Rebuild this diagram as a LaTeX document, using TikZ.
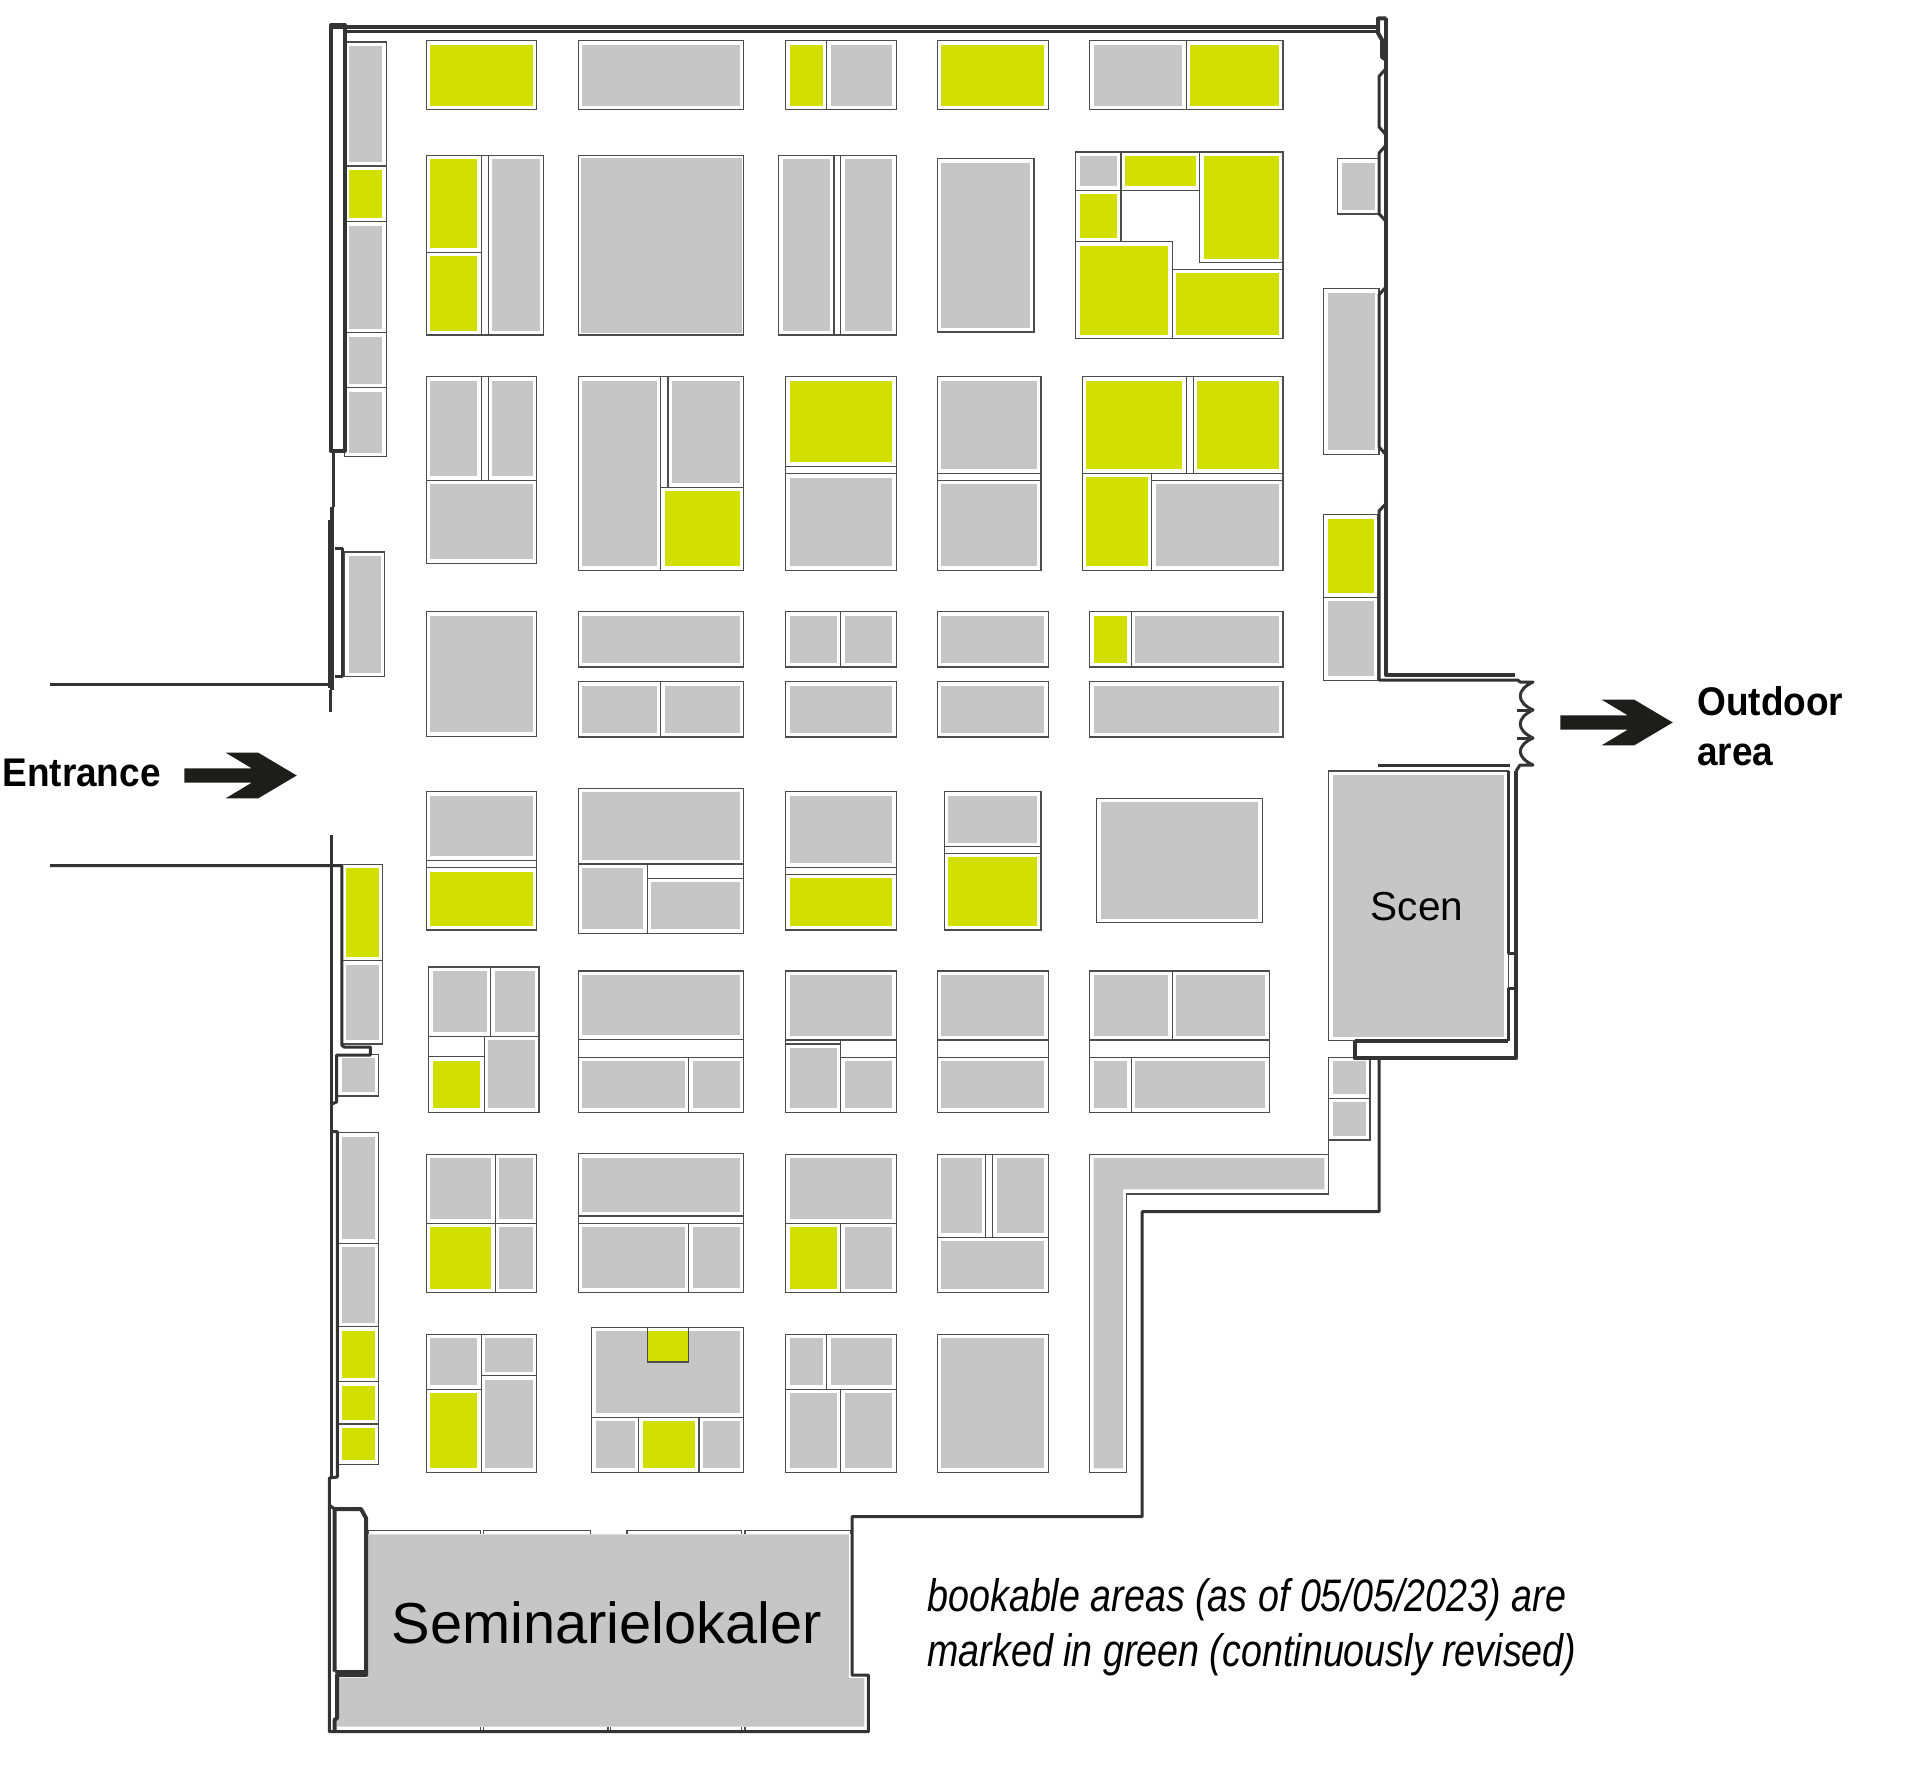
\documentclass[tikz,border=0pt]{standalone}
\usepackage{fontspec}
\setmainfont{Liberation Sans}
\newfontfamily\narrowfont[FakeStretch=0.925]{Liberation Sans}
\newfontfamily\notefont[FakeStretch=0.826]{Liberation Sans}
\definecolor{boothgray}{HTML}{C6C6C6}
\definecolor{boothgreen}{HTML}{D2E000}
\definecolor{walldark}{HTML}{333333}
\definecolor{arrowdark}{HTML}{1D1D1B}
\tikzset{
  booth/.style={draw=black!70, line width=0.55pt, fill=white},
  wall/.style={draw=walldark, line width=1.5pt, line join=round},
  wallthick/.style={draw=walldark, line width=2pt, line join=round},
  wallthin/.style={draw=black!70, line width=0.55pt},
}
\begin{document}
\begin{tikzpicture}[x=0.5pt,y=-0.5pt]
    \useasboundingbox (0,0) rectangle (1920,1766);

    % Seminar rooms
    \fill[boothgray] (367,1534.3) -- (848.8,1534.3) -- (848.8,1678) -- (864.3,1678) -- (864.3,1726.7) -- (336.5,1726.7) -- (336.5,1678) -- (367,1678) -- cycle;
    \foreach \xa/\xb in {368/480.2, 483.5/590.8, 627/741.8, 745/850.8} {
        \draw[wallthin] (\xa,1534) -- (\xa,1530.7) -- (\xb,1530.7) -- (\xb,1534);
    }
    \foreach \x in {480.2, 483.5, 608, 610.5, 741.8, 745} {
        \draw[wallthin] (\x,1727) -- (\x,1731);
    }

    % Empty cells
    \foreach \xa/\ya/\xb/\yb in {
        481.4/155.3/488.4/335, 834/155.3/840.6/335,
        481.4/376.7/488.4/480.3, 660.6/376.7/668/487.3, 785.5/466.3/896.1/473.7, 937.3/473.3/1041/480.3,
        1186.3/376.7/1193.3/473.3, 1151.6/473.3/1283/480.3,
        426.3/860.3/536.5/867.7, 647.1/864/743.9/878.3, 785.5/867.3/896.1/874.3, 944.3/846.7/1041/853.3,
        428.8/1036.3/484.3/1056.7, 578.2/1039.3/743.9/1057.3, 785.5/1040/840.6/1044, 840.6/1040/896.1/1057.3,
        937.3/1040/1048.4/1057.3, 1089.6/1040/1269.2/1057.3,
        578.2/1216/743.9/1223.3, 985.9/1154.3/992.9/1237.3
    } {
        \draw[booth] (\xa,\ya) rectangle (\xb,\yb);
    }

    % Grey stands
    \foreach \xa/\ya/\xb/\yb in {
        344.7/42/386.3/166, 344.7/221.5/386.3/332.5, 344.7/332.5/386.3/387.7, 344.7/387.7/386.3/456.7, 344.7/552/384.7/676.7,
        341.8/960.7/382.7/1044, 337.8/1054.3/378.6/1096, 337.8/1132.7/378.6/1243.3, 337.8/1243.3/378.6/1326.7,
        578.2/40.7/743.9/109.7, 826.7/40.7/896.1/109.7, 1089.6/40.7/1186.3/109.7,
        488.4/155.3/543.5/335, 778.6/155.3/834/335, 840.6/155.3/896.1/335, 937.3/158.7/1034/332, 1075.7/152/1121/190.3,
        1337.8/158.7/1379/214, 1323.9/288.7/1379/454.3,
        426.3/376.7/481.4/480.3, 488.4/376.7/536.5/480.3, 426.3/480.3/536.5/563.3,
        578.2/376.7/660.6/570.3, 668/376.7/743.9/487.3, 785.5/473.7/896.1/570.3,
        937.3/376.7/1041/473.3, 937.3/480.3/1041/570.3, 1151.6/480.3/1283/570.3, 1323.9/597.3/1378/680.3,
        426.3/611.7/536.5/736.3, 578.2/611.7/743.9/667, 578.2/681.7/660.6/737, 660.6/681.7/743.9/737,
        785.5/611.7/840.6/667, 840.6/611.7/896.1/667, 785.5/681.7/896.1/737,
        937.3/611.7/1048.4/667, 937.3/681.7/1048.4/737, 1131.2/611.7/1283/667, 1089.6/681.7/1283/737,
        426.3/791.7/536.5/860.3, 578.2/788.3/743.9/864, 578.2/864/647.1/933.3, 647.1/878.3/743.9/933.3,
        785.5/791.7/896.1/867.3, 944.3/791.7/1041/846.7, 1096.5/798.3/1262.2/922.7, 1328.8/771/1508.4/1040.7,
        428.8/967/490.8/1036.3, 490.8/967/539/1036.3, 484.3/1036.3/539/1112.3,
        578.2/971/743.9/1039.3, 578.2/1057.3/688.8/1112.3, 688.8/1057.3/743.9/1112.3,
        785.5/971/896.1/1040, 785.5/1044/840.6/1112.3, 840.6/1057.3/896.1/1112.3,
        937.3/971/1048.4/1040, 937.3/1057.3/1048.4/1112.3,
        1089.6/971/1172.4/1040, 1172.4/971/1269.2/1040, 1089.6/1057.3/1131.2/1112.3, 1131.2/1057.3/1269.2/1112.3,
        1328.8/1057.3/1370/1098.3, 1328.8/1098.3/1370/1140,
        426.3/1154.3/495.3/1223.3, 495.3/1154.3/536.5/1223.3, 495.3/1223.3/536.5/1292.7,
        578.2/1153.7/743.9/1216, 578.2/1223.3/688.8/1292.3, 688.8/1223.3/743.9/1292.3,
        785.5/1154.3/896.1/1223.3, 840.6/1223.3/896.1/1292.7,
        937.3/1154.3/985.9/1237.3, 992.9/1154.3/1048.4/1237.3, 937.3/1237.3/1048.4/1292.7,
        426.3/1334.3/481.4/1389.3, 481.4/1334.3/536.5/1375.7, 481.4/1375.7/536.5/1472.3,
        591.6/1327.3/743.9/1417.3, 591.6/1417.3/638.6/1472.3, 699/1417.3/743.9/1472.3,
        785.5/1334.3/826.7/1389.3, 826.7/1334.3/896.1/1389.3, 785.5/1389.3/840.6/1472.3, 840.6/1389.3/896.1/1472.3,
        937.3/1334.3/1048.4/1472.3
    } {
        \draw[booth] (\xa,\ya) rectangle (\xb,\yb);
        \fill[boothgray] (\xa+4,\ya+4) rectangle (\xb-4,\yb-4);
    }
    \draw[booth] (578.2,155.3) rectangle (743.9,335);
    \fill[boothgray] (580.6,157.6) rectangle (741.6,332.8);

    % Green stands
    \foreach \xa/\ya/\xb/\yb in {
        344.7/166/386.3/221.5, 341.8/864.3/382.7/960.7,
        337.8/1326.7/378.6/1381.7, 337.8/1381.7/378.6/1424, 337.8/1424/378.6/1464.3,
        426.3/40.7/536.5/109.7, 785.5/40.7/826.7/109.7, 937.3/40.7/1048.4/109.7, 1186.3/40.7/1283/109.7,
        426.3/155.3/481.4/252.3, 426.3/252.3/481.4/335,
        1121/152/1199.8/190.3, 1199.8/152/1283/262.7, 1075.7/190.3/1121/241.7, 1075.7/241.7/1172.4/338.7, 1172.4/269.3/1283/338.7,
        660.6/487.3/743.9/570.3, 785.5/376.7/896.1/466.3,
        1082.2/376.7/1186.3/473.3, 1193.3/376.7/1283/473.3, 1082.2/473.3/1151.6/570.3, 1323.9/514.7/1378/597.3,
        1089.6/611.7/1131.2/667,
        426.3/867.7/536.5/930, 785.5/874.3/896.1/930, 944.3/853.3/1041/930,
        428.8/1056.7/484.3/1112.3,
        426.3/1223.3/495.3/1292.7, 785.5/1223.3/840.6/1292.7,
        426.3/1389.3/481.4/1472.3, 638.6/1417.3/699/1472.3
    } {
        \draw[booth] (\xa,\ya) rectangle (\xb,\yb);
        \fill[boothgreen] (\xa+4,\ya+4) rectangle (\xb-4,\yb-4);
    }
    \draw[booth] (647.1,1327.3) rectangle (688.8,1362);
    \fill[boothgreen] (648,1331.3) rectangle (688,1361);
    \draw[wallthin] (1283,262.7) -- (1283,269.3);
    \draw[wallthin] (1328.8,1140) -- (1328.8,1154.3);

    % Corner stand
    \draw[booth] (1089.6,1154.3) -- (1328.8,1154.3) -- (1328.8,1194) -- (1126.7,1194) -- (1126.7,1472.3) -- (1089.6,1472.3) -- cycle;
    \fill[boothgray] (1093.7,1158) -- (1324.3,1158) -- (1324.3,1189.3) -- (1123,1189.3) -- (1123,1468.3) -- (1093.7,1468.3) -- cycle;

    % Upper walls
    \draw[wallthick] (331,26.7) -- (1377,26.7);
    \draw[wall] (344.7,31.7) -- (1377,31.7);
    \draw[wallthick] (331,450.7) -- (331,25) -- (344.7,25) -- (344.7,450.7) -- cycle;
    \draw[wallthick] (1386.3,18.5) -- (1378,18.5) -- (1378,33) -- (1382,40) -- (1382,57) -- (1386.3,60);
    \draw[wallthick] (1386.3,18.5) -- (1386.3,675) -- (1515,675);
    \foreach \ya/\yb in {68.3/135, 145/221.7, 286.7/455} {
        \draw[wall] (1386.3,\ya) -- (1379,\ya+8) -- (1379,\yb-8) -- (1386.3,\yb);
    }
    \draw[wall] (1386.3,503.3) -- (1379,511) -- (1379,680) -- (1517.8,680) -- (1520,682) -- (1533,682)
        .. controls (1516,690) and (1516,702) .. (1533,710)
        .. controls (1516,718) and (1516,730) .. (1533,738)
        .. controls (1516,746) and (1516,757) .. (1533,765)
        -- (1520,765) -- (1516,771);
    \draw[wall] (1517,710) -- (1533,710);
    \draw[wall] (1517,738) -- (1533,738);
    \draw[wall] (1377.8,765) -- (1510,765);

    % Entrance walls
    \draw[wall] (333.3,450.7) -- (333.3,506.7);
    \draw[wallthick] (332,506.7) -- (332,690);
    \draw[wall] (329.5,520) -- (329.5,688);
    \draw[wall] (335.3,548.3) -- (342.7,548.3) -- (342.7,676.7) -- (335.3,676.7);
    \draw[wall] (330.4,690) -- (330.4,711.7);
    \draw[wall] (50,684) -- (333,684);
    \draw[wall] (331.2,835) -- (331.2,1478);
    \draw[wall] (50,865.7) -- (341.8,865.7) -- (341.8,1045) -- (344,1047) -- (370.4,1047) -- (370.4,1055) -- (336.5,1055) -- (336.5,1102) -- (331.2,1104.3);

    % Lower walls
    \draw[wall] (331.2,1131.7) -- (337.3,1131.7) -- (337.3,1477) -- (329.3,1478) -- (329.3,1731.7)
        -- (868.4,1731.7) -- (868.4,1675) -- (852,1675) -- (852,1516.7) -- (1142.2,1516.7) -- (1142.2,1211.7) -- (1379,1211.7) -- (1379,1058.3);
    \draw[wallthick] (1354.5,1040.7) -- (1508.4,1040.7);
    \draw[wallthick] (1354.5,1040.7) -- (1354.5,1058.3) -- (1516,1058.3) -- (1516,771);
    \draw[wall] (1508.4,771) -- (1508.4,953.3) -- (1516,953.3);
    \draw[wall] (1508.4,1040.7) -- (1508.4,988) -- (1516,988);
    \draw[wall] (329.3,1505) -- (334.5,1509);
    \draw[wallthick] (334.5,1671.7) -- (334.5,1509) -- (361,1509) -- (366,1518) -- (366,1675) -- (337,1675) -- (337,1718) -- (334.5,1720) -- (334.5,1731);
    \draw[wall] (334.5,1671.7) -- (366,1671.7);

    % Arrows
    \foreach \sx/\sy in {0/0, 1376/-53} {
        \fill[arrowdark, shift={(\sx,\sy)}] (184.3,768.3) -- (251.7,768.3) -- (225.7,752.7) -- (258.3,752.7) -- (296.7,775.5)
            -- (258.3,798.3) -- (225.7,798.3) -- (251.7,782.7) -- (184.3,782.7) -- cycle;
    }

    % Labels
    \node[anchor=base west, inner sep=0pt, font=\narrowfont\bfseries\fontsize{20}{25}\selectfont] (entrance) at (2,786) {Entrance};
    \node[anchor=base west, inner sep=0pt, align=left, font=\narrowfont\bfseries\fontsize{20}{25}\selectfont] (outdoor) at (1697,765) {Outdoor\\area};
    \node[anchor=base, inner sep=0pt, font=\fontsize{20.25}{24}\selectfont] (scen) at (1417,920) {Scen};
    \node[anchor=base, inner sep=0pt, font=\fontsize{28.9}{34}\selectfont] (seminar) at (606.8,1643) {Seminarielokaler};
    \node[anchor=base west, inner sep=0pt, align=left, font=\notefont\itshape\fontsize{22.8}{27.5}\selectfont] (note) at (927,1666.7) {bookable areas (as of 05/05/2023) are\\marked in green (continuously revised)};
\end{tikzpicture}
\end{document}
